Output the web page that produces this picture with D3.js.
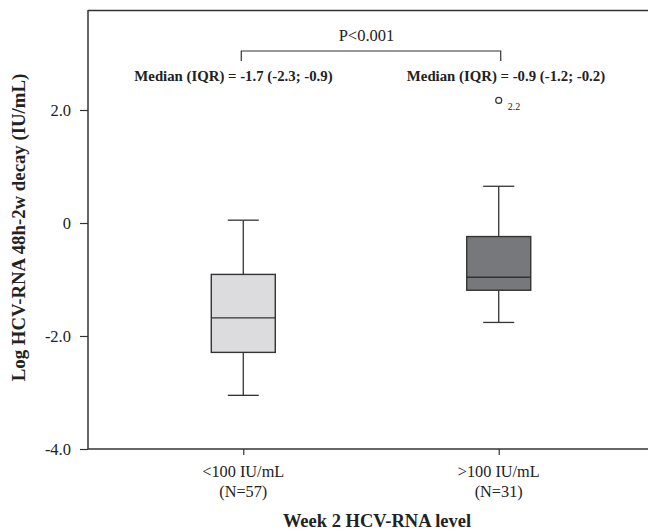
<!DOCTYPE html>
<html>
<head>
<meta charset="utf-8">
<script src="https://cdn.jsdelivr.net/npm/d3@7"></script>
<style>
  body { margin: 0; background: #fff; }
  text { font-family: "Liberation Serif", "Times New Roman", serif; fill: #222; }
</style>
</head>
<body>
<div id="chart"></div>
<script>
// Data
const groups = ["<100 IU/mL", ">100 IU/mL"];
const groupN = ["(N=57)", "(N=31)"];
const whiskerLow = [-3.05, -1.76];
const q1 = [-2.29, -1.19];
const median = [-1.68, -0.96];
const q3 = [-0.91, -0.24];
const whiskerHigh = [0.05, 0.65];
const boxFill = ["#dcdcde", "#77787c"];
const medianLabels = ["Median (IQR) = -1.7 (-2.3; -0.9)", "Median (IQR) = -0.9 (-1.2; -0.2)"];
const outliers = [{ group: ">100 IU/mL", value: 2.17, label: "2.2" }];
const yTicks = [-4, -2, 0, 2];
const yTickLabels = ["-4.0", "-2.0", "0", "2.0"];

const W = 648, H = 531;
const plotLeft = 88, plotTop = 10, plotBottom = 449;

const svg = d3.select("#chart")
  .append("svg")
  .attr("width", W)
  .attr("height", H);

// Scales
const x = d3.scalePoint().domain(groups).range([90, 652]).padding(0.6);
const y = d3.scaleLinear().domain([-4, 3.77]).range([plotBottom, plotTop]);

const stroke = "#333";

// Frame (top border)
svg.append("line")
  .attr("x1", plotLeft).attr("x2", W)
  .attr("y1", plotTop + 0.5).attr("y2", plotTop + 0.5)
  .attr("stroke", stroke).attr("stroke-width", 1.5);

// Y axis
const yAxis = svg.append("g")
  .attr("transform", `translate(${plotLeft},0)`)
  .call(d3.axisLeft(y).tickValues(yTicks)
    .tickFormat((d, i) => yTickLabels[i]).tickSize(8).tickPadding(9));
yAxis.select(".domain").attr("stroke", stroke).attr("stroke-width", 1.5).attr("d", `M0,${plotTop}V${plotBottom}`);
yAxis.selectAll(".tick line").attr("stroke", stroke).attr("stroke-width", 1.2);
yAxis.selectAll(".tick text").attr("font-size", 16.5).attr("font-family", "Liberation Serif").attr("fill", "#333");

// X axis
const xAxis = svg.append("g")
  .attr("transform", `translate(0,${plotBottom})`)
  .call(d3.axisBottom(x).tickSize(6).tickFormat(""));
xAxis.select(".domain").attr("stroke", stroke).attr("stroke-width", 1.5).attr("d", `M${plotLeft},0H${W}`);
xAxis.selectAll(".tick line").attr("stroke", stroke).attr("stroke-width", 1.2);

// X category labels
groups.forEach((g, i) => {
  svg.append("text")
    .attr("x", x(g)).attr("y", 477)
    .attr("text-anchor", "middle").attr("font-size", 16.3)
    .text(g);
  svg.append("text")
    .attr("x", x(g)).attr("y", 497)
    .attr("text-anchor", "middle").attr("font-size", 16.3)
    .text(groupN[i]);
});

// Axis titles
svg.append("text")
  .attr("x", 377).attr("y", 527)
  .attr("text-anchor", "middle").attr("font-size", 18.5).attr("font-weight", "bold")
  .text("Week 2 HCV-RNA level");

svg.append("text")
  .attr("transform", "rotate(-90)")
  .attr("x", -227.5).attr("y", 25)
  .attr("text-anchor", "middle").attr("font-size", 18.8).attr("font-weight", "bold")
  .text("Log HCV-RNA 48h-2w decay (IU/mL)");

// Box plots
const boxW = 64, capW = 31;
const labelX = [233.5, 506];
groups.forEach((g, i) => {
  const cx = x(g);
  const gb = svg.append("g");
  // whiskers
  gb.append("line")
    .attr("x1", cx).attr("x2", cx)
    .attr("y1", y(whiskerHigh[i])).attr("y2", y(q3[i]))
    .attr("stroke", stroke).attr("stroke-width", 1.3);
  gb.append("line")
    .attr("x1", cx).attr("x2", cx)
    .attr("y1", y(q1[i])).attr("y2", y(whiskerLow[i]))
    .attr("stroke", stroke).attr("stroke-width", 1.3);
  [whiskerHigh[i], whiskerLow[i]].forEach(v => {
    gb.append("line")
      .attr("x1", cx - capW / 2).attr("x2", cx + capW / 2)
      .attr("y1", y(v)).attr("y2", y(v))
      .attr("stroke", stroke).attr("stroke-width", 1.3);
  });
  // box
  gb.append("rect")
    .attr("x", cx - boxW / 2).attr("width", boxW)
    .attr("y", y(q3[i])).attr("height", y(q1[i]) - y(q3[i]))
    .attr("fill", boxFill[i]).attr("stroke", stroke).attr("stroke-width", 1.4);
  // median
  gb.append("line")
    .attr("x1", cx - boxW / 2).attr("x2", cx + boxW / 2)
    .attr("y1", y(median[i])).attr("y2", y(median[i]))
    .attr("stroke", stroke).attr("stroke-width", 1.4);
  // median label
  svg.append("text")
    .attr("x", labelX[i]).attr("y", 81)
    .attr("text-anchor", "middle").attr("font-size", 14.8).attr("font-weight", "bold")
    .text(medianLabels[i]);
});

// Outliers
outliers.forEach(o => {
  svg.append("circle")
    .attr("cx", x(o.group)).attr("cy", y(o.value)).attr("r", 3)
    .attr("fill", "#fff").attr("stroke", stroke).attr("stroke-width", 1.2);
  svg.append("text")
    .attr("x", x(o.group) + 9).attr("y", y(o.value) + 10)
    .attr("font-size", 10).attr("fill", "#444")
    .text(o.label);
});

// Significance bracket
const bx1 = x(groups[0]) - 2, bx2 = x(groups[1]) + 2;
svg.append("path")
  .attr("d", `M${bx1},61V51H${bx2}V61`)
  .attr("fill", "none").attr("stroke", stroke).attr("stroke-width", 1.2);
svg.append("text")
  .attr("x", 366.5).attr("y", 41)
  .attr("text-anchor", "middle").attr("font-size", 16.5)
  .text("P<0.001");
</script>
</body>
</html>
